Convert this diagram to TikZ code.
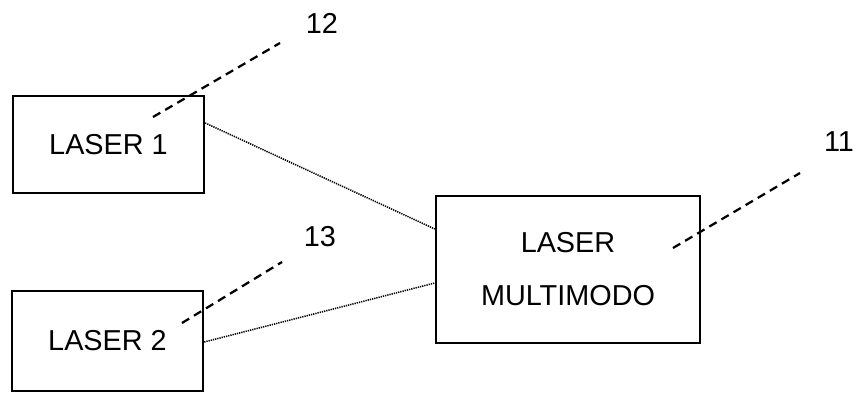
\documentclass[tikz,border=0pt]{standalone}
\usepackage{fontspec}
\setmainfont{Liberation Sans}

\begin{document}
\begin{tikzpicture}[every node/.style={font=\fontsize{20.5}{37.7}\selectfont,align=center},box/.style={draw=black,line width=1.7pt,inner sep=0pt},leader/.style={draw=black,line width=1.6pt,dash pattern=on 6pt off 4pt},fibre/.style={draw=black,line width=1.1pt,dash pattern=on 0.9pt off 0.7pt}]
\useasboundingbox (0,0) rectangle (21.525,9.8);

\node[box,minimum width=4.775cm,minimum height=2.425cm] (laser1) at (2.7125,6.1875) {LASER 1};
\node[box,minimum width=4.775cm,minimum height=2.5cm] (laser2) at (2.6875,1.275) {LASER 2};
\node[box,minimum width=6.6cm,minimum height=3.675cm] (multi) at (14.2,3.0625) {LASER\\MULTIMODO};

% reference numerals
\node (n12) at (8.05,9.2125) {12};
\node (n13) at (8.0,3.8875) {13};
\node (n11) at (20.975,6.25) {11};

% fibres into the multimode laser
\draw[fibre] ([yshift=0.5375cm]laser1.east) -- ([yshift=1.0125cm]multi.west);
\draw[fibre] ([yshift=-0.025cm]laser2.east) -- ([yshift=-0.3375cm]multi.west);

% leader lines
\coordinate (t12) at (3.825,6.875);
\coordinate (e12) at (7.0,8.725);
\coordinate (t13) at (4.55,1.725);
\coordinate (e13) at (7.05,3.25);
\coordinate (t11) at (16.825,3.6);
\coordinate (e11) at (20.0,5.475);
\draw[leader] (t12) -- (e12);
\draw[leader] (t13) -- (e13);
\draw[leader] (t11) -- (e11);

\end{tikzpicture}
\end{document}
